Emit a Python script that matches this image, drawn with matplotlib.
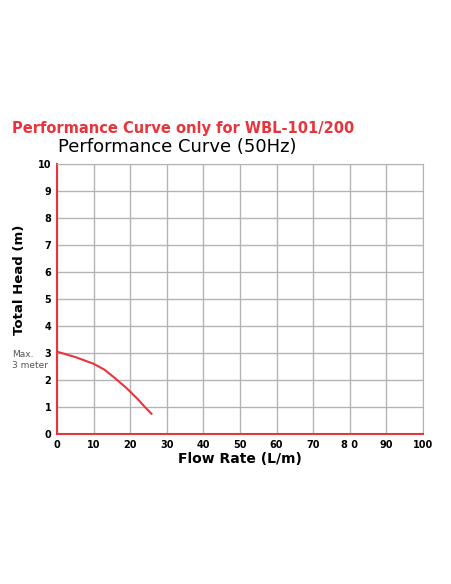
import matplotlib
matplotlib.use("Agg")
import matplotlib.pyplot as plt

flow = [0, 5, 10, 13, 16, 19, 22, 24, 25.8]
head = [3.05, 2.85, 2.6, 2.38, 2.05, 1.7, 1.3, 1.0, 0.75]
xticks = [0, 10, 20, 30, 40, 50, 60, 70, 80, 90, 100]
xlabels = ["0", "10", "20", "30", "40", "50", "60", "70", "8 0", "90", "100"]
yticks = list(range(11))

W, H = 452, 584
fig = plt.figure(figsize=(W/100, H/100), dpi=100)
ax = fig.add_axes([57/W, 1-434/H, (423-57)/W, (434-164)/H])
red = "#e8343a"
ax.plot(flow, head, color=red, lw=1.5)
ax.set_xlim(0, 100); ax.set_ylim(0, 10)
ax.set_xticks(xticks); ax.set_xticklabels(xlabels)
ax.set_yticks(yticks)
ax.grid(True, color="#b4b4b4", lw=1)
for s in ["top", "right"]:
    ax.spines[s].set_color("#b4b4b4")
for s in ["left", "bottom"]:
    ax.spines[s].set_color(red); ax.spines[s].set_linewidth(1.5)
ax.tick_params(length=0, labelsize=7, pad=4)
for t in ax.get_xticklabels() + ax.get_yticklabels():
    t.set_fontweight("bold")
ax.set_xlabel("Flow Rate (L/m)", fontsize=10, fontweight="bold", labelpad=2)
ax.set_ylabel("Total Head (m)", fontsize=9.5, fontweight="bold")
ax.yaxis.set_label_coords(-0.085, 0.57)
fig.text(12/W, 1-128/H, "Performance Curve only for WBL-101/200", color=red,
         fontsize=10.5, fontweight="bold", va="center")
fig.text(58/W, 1-147/H, "Performance Curve (50Hz)", color="black",
         fontsize=13, fontweight="medium", va="center")
fig.text(12/W, 1-360/H, "Max.\n3 meter", color="#555555", fontsize=6.5, va="center",
         linespacing=1.4)
fig.savefig("out.png", dpi=100)
